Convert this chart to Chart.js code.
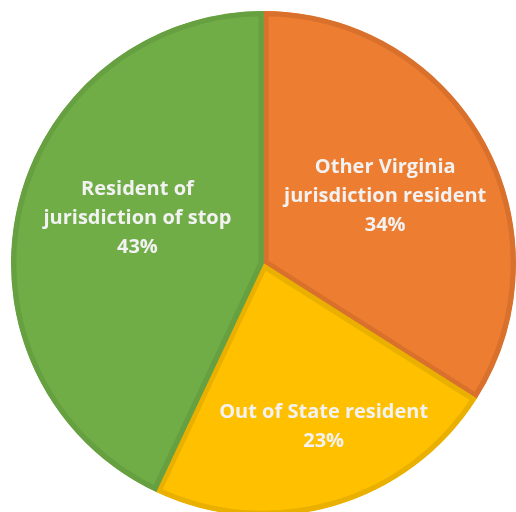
<!DOCTYPE html>
<html lang="en">
<head>
    <meta charset="UTF-8">
    <title>Residency of stopped drivers</title>
    <style>
        html, body { margin: 0; padding: 0; background: #fff; overflow: hidden; }
        .wrap { position: absolute; left: 0; top: 0; width: 527px; height: 527px; }
    </style>
</head>
<body>
    <div class="wrap"><canvas id="pieChart"></canvas></div>

    <script src="https://cdn.jsdelivr.net/npm/chart.js"></script>
    <script>
        // Data
        const categories = [
            ['Other Virginia', 'jurisdiction resident'],
            ['Out of State resident'],
            ['Resident of', 'jurisdiction of stop']
        ];
        const shares = [34, 23, 43];

        const fills = ['#ED7D31', '#FFC000', '#70AD47'];
        const edges = ['#D9712C', '#EAB000', '#66A040'];

        // Draws the white labels inside each slice
        const sliceLabels = {
            id: 'sliceLabels',
            afterDatasetsDraw(chart, args, opts) {
                const ctx = chart.ctx;
                const arcs = chart.getDatasetMeta(0).data;
                ctx.save();
                ctx.fillStyle = '#F2F2F2';
                ctx.font = 'bold 20px "Open Sans", sans-serif';
                ctx.textAlign = 'center';
                ctx.textBaseline = 'middle';
                arcs.forEach((arc, i) => {
                    const p = arc.getProps(['x', 'y', 'startAngle', 'endAngle', 'outerRadius'], true);
                    const mid = (p.startAngle + p.endAngle) / 2 + opts.shift[i] * Math.PI / 180;
                    const d = p.outerRadius * opts.radius[i];
                    const cx = p.x + Math.cos(mid) * d;
                    const cy = p.y + Math.sin(mid) * d;
                    const lines = categories[i].concat([shares[i] + '%']);
                    const top = cy - (lines.length - 1) * opts.lineHeight / 2;
                    lines.forEach((t, j) => ctx.fillText(t, cx, top + j * opts.lineHeight));
                });
                ctx.restore();
            }
        };

        new Chart(document.getElementById('pieChart'), {
            type: 'pie',
            data: {
                labels: categories.map(c => c.join(' ')),
                datasets: [{
                    data: shares,
                    backgroundColor: fills,
                    borderColor: edges,
                    borderWidth: 5,
                    borderAlign: 'inner'
                }]
            },
            options: {
                responsive: true,
                maintainAspectRatio: false,
                animation: false,
                layout: { padding: 11 },
                plugins: {
                    legend: { display: false },
                    tooltip: { enabled: false },
                    sliceLabels: { radius: [0.55, 0.69, 0.53], shift: [0, -4, 7], lineHeight: 29 }
                }
            },
            plugins: [sliceLabels]
        });
    </script>
</body>
</html>
